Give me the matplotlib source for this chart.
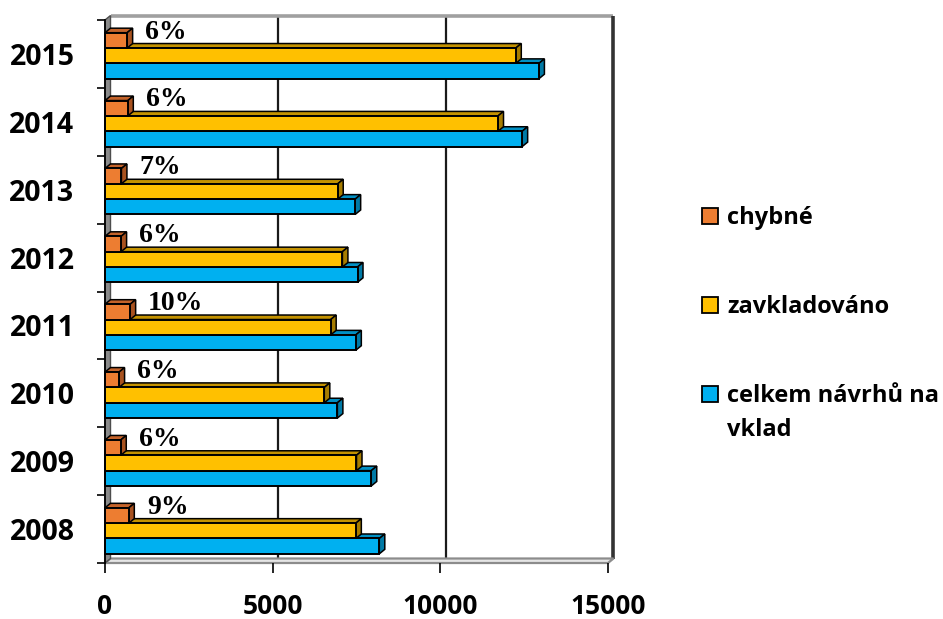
import matplotlib
matplotlib.use("Agg")
import matplotlib.pyplot as plt
from matplotlib.patches import Polygon, Rectangle
import numpy as np

# --- data -------------------------------------------------------------
years = ["2008", "2009", "2010", "2011", "2012", "2013", "2014", "2015"]
celkem = [8180, 7940, 6930, 7480, 7530, 7460, 12440, 12940]
zavkladovano = [7480, 7500, 6540, 6730, 7080, 6940, 11720, 12250]
chybne = [710, 470, 420, 750, 480, 490, 680, 660]
podil_chybnych = ["9%", "6%", "6%", "10%", "6%", "7%", "6%", "6%"]
series_names = ["chybné", "zavkladováno", "celkem návrhů na\nvklad"]
x_ticks = [0, 5000, 10000, 15000]

SANS = "Open Sans"
SERIF = "Liberation Serif"

# --- figure / axes ----------------------------------------------------
W, H, DPI = 943, 619, 100
fig = plt.figure(figsize=(W / DPI, H / DPI), dpi=DPI)
fig.patch.set_facecolor("white")

L, R, T, B = 105, 608, 20, 563          # front plane of the plot box (px)
ax = fig.add_axes([L / W, 1 - B / H, (R - L) / W, (B - T) / H])
XMAX = 15000
ax.set_xlim(0, XMAX)
ax.set_ylim(-0.5, len(years) - 0.5)
ax.set_facecolor("none")

# pseudo-3D depth (pixels -> data units)
DX, DY = 5.5, 4.5
ddx = DX * XMAX / (R - L)
ddy = DY * len(years) / (B - T)

ylo, yhi = -0.5, len(years) - 0.5

# back wall: gridlines, top and right edges
for xv in x_ticks[1:-1]:
    ax.plot([xv + ddx, xv + ddx], [ylo + ddy, yhi + ddy], color="#1a1a1a",
            lw=1.6, zorder=0.5, clip_on=False, solid_capstyle="butt")
ax.plot([ddx, XMAX + ddx], [yhi + ddy, yhi + ddy], color="#a0a0a0", lw=2.6,
        zorder=0.6, clip_on=False, solid_capstyle="butt")
ax.plot([XMAX + ddx, XMAX + ddx], [ylo + ddy, yhi + ddy], color="#333333",
        lw=2.6, zorder=0.6, clip_on=False, solid_capstyle="butt")

# floor and left wall
floor = Polygon([(0, ylo), (XMAX, ylo), (XMAX + ddx, ylo + ddy), (ddx, ylo + ddy)],
                closed=True, fc="#e6e6e6", ec="#8c8c8c", lw=1.6, zorder=1,
                clip_on=False)
ax.add_patch(floor)
wall = Polygon([(0, ylo), (0, yhi), (ddx, yhi + ddy), (ddx, ylo + ddy)],
               closed=True, fc="#8a8a8a", ec="#4d4d4d", lw=1.0, zorder=1,
               clip_on=False)
ax.add_patch(wall)

# --- bars -------------------------------------------------------------
bh = 0.226
offsets = [-0.252, -0.026, 0.200]     # blue, yellow, orange
series = [celkem, zavkladovano, chybne]
front_cols = ["#00B0F0", "#FFC000", "#ED7D31"]
top_cols = ["#0090C4", "#C49200", "#C4632A"]
side_cols = ["#007AA6", "#A67C00", "#A8521F"]

y = np.arange(len(years))
for s, (vals, off, fc, tc, sc) in enumerate(zip(series, offsets, front_cols,
                                                top_cols, side_cols)):
    z = 2 + s
    ax.barh(y + off, vals, height=bh, color=fc, edgecolor="black", lw=1.4,
            zorder=z + 0.2, clip_on=False)
    for yi, v in zip(y + off, vals):
        top = yi + bh / 2
        bot = yi - bh / 2
        ax.add_patch(Polygon([(0, top), (v, top), (v + ddx, top + ddy), (ddx, top + ddy)],
                             closed=True, fc=tc, ec="black", lw=1.1, zorder=z,
                             clip_on=False))
        ax.add_patch(Polygon([(v, bot), (v, top), (v + ddx, top + ddy), (v + ddx, bot + ddy)],
                             closed=True, fc=sc, ec="black", lw=1.1, zorder=z + 0.1,
                             clip_on=False))

# share of faulty submissions next to the orange bars
for yi, v, lab in zip(y + offsets[2], chybne, podil_chybnych):
    ax.annotate(lab, xy=(v, yi), xytext=(13, 6), textcoords="offset points",
                ha="left", va="center", fontsize=20, fontweight="bold",
                family=SERIF, color="black", zorder=10)

# --- axes styling -------------------------------------------------------
for side in ["top", "right", "bottom"]:
    ax.spines[side].set_visible(False)
ax.spines["left"].set_color("black")
ax.spines["left"].set_linewidth(1.3)
ax.spines["left"].set_zorder(6)

ax.set_yticks(y)
ax.set_yticklabels(years)
ax.set_yticks(np.arange(-0.5, len(years), 1.0), minor=True)
ax.tick_params(axis="y", which="major", length=0, pad=22)
ax.tick_params(axis="y", which="minor", length=5.5, width=1.2, color="black",
               direction="out")
ax.set_xticks(x_ticks)
ax.set_xticklabels([str(v) for v in x_ticks])
ax.tick_params(axis="x", length=7.5, width=1.2, color="black", direction="out",
               pad=14)
for lab in ax.get_yticklabels():
    lab.set_fontfamily(SANS)
    lab.set_fontweight("bold")
    lab.set_fontsize(20.5)
for lab in ax.get_xticklabels():
    lab.set_fontfamily(SANS)
    lab.set_fontweight("bold")
    lab.set_fontsize(19)

# --- legend -------------------------------------------------------------
leg_x, sq = 702, 16
first_baselines = [224, 313, 402]
line_gap = 34
for name, col, bl in zip(series_names, [front_cols[2], front_cols[1], front_cols[0]],
                         first_baselines):
    cy = bl - 8
    fig.add_artist(Rectangle((leg_x / W, 1 - (cy + sq / 2) / H), sq / W, sq / H,
                             transform=fig.transFigure, fc=col, ec="black",
                             lw=1.3))
    for k, line in enumerate(name.split("\n")):
        fig.text(727 / W, 1 - (bl + k * line_gap) / H, line, ha="left",
                 va="baseline", fontsize=17, fontweight="bold", family=SANS)

fig.savefig("out.png", dpi=DPI, facecolor="white")
